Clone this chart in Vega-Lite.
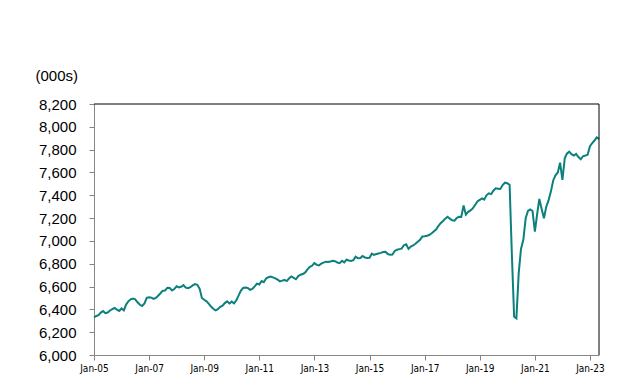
{
  "$schema": "https://vega.github.io/schema/vega-lite/v6.json",
  "autosize": "none",
  "width": 505,
  "height": 251,
  "padding": {"left": 94, "top": 104, "right": 25, "bottom": 27},
  "background": "white",
  "config": {
    "view": {"stroke": null},
    "font": "Liberation Sans",
    "axisX": {
      "title": null,
      "grid": false,
      "domainColor": "#868686",
      "tickColor": "#868686",
      "tickSize": 5,
      "labelFont": "DejaVu Sans Condensed, Liberation Sans, sans-serif",
      "labelFontSize": 10,
      "labelColor": "#000000",
      "labelPadding": 3,
      "labelFlush": false,
      "labelOverlap": false
    },
    "axisY": {
      "grid": false,
      "domainColor": "#868686",
      "tickColor": "#868686",
      "tickSize": 5,
      "labelFont": "Liberation Sans",
      "labelFontSize": 15,
      "labelColor": "#000000",
      "labelPadding": 13,
      "labelOverlap": false,
      "labelFlush": false
    }
  },
  "datasets": {
    "frameTop": [{"v": 8200}],
    "frameRight": [{"date": "2023-05-01"}],
    "emp": [
      {"date":"2005-01-01","v":6330},{"date":"2005-02-01","v":6342},{"date":"2005-03-01","v":6350},{"date":"2005-04-01","v":6372},{"date":"2005-05-01","v":6385},{"date":"2005-06-01","v":6366},{"date":"2005-07-01","v":6372},{"date":"2005-08-01","v":6390},{"date":"2005-09-01","v":6402},{"date":"2005-10-01","v":6412},{"date":"2005-11-01","v":6398},{"date":"2005-12-01","v":6386},
      {"date":"2006-01-01","v":6408},{"date":"2006-02-01","v":6392},{"date":"2006-03-01","v":6440},{"date":"2006-04-01","v":6470},{"date":"2006-05-01","v":6488},{"date":"2006-06-01","v":6495},{"date":"2006-07-01","v":6488},{"date":"2006-08-01","v":6462},{"date":"2006-09-01","v":6440},{"date":"2006-10-01","v":6430},{"date":"2006-11-01","v":6452},{"date":"2006-12-01","v":6500},
      {"date":"2007-01-01","v":6505},{"date":"2007-02-01","v":6503},{"date":"2007-03-01","v":6492},{"date":"2007-04-01","v":6500},{"date":"2007-05-01","v":6520},{"date":"2007-06-01","v":6541},{"date":"2007-07-01","v":6564},{"date":"2007-08-01","v":6566},{"date":"2007-09-01","v":6590},{"date":"2007-10-01","v":6588},{"date":"2007-11-01","v":6566},{"date":"2007-12-01","v":6578},
      {"date":"2008-01-01","v":6602},{"date":"2008-02-01","v":6592},{"date":"2008-03-01","v":6598},{"date":"2008-04-01","v":6612},{"date":"2008-05-01","v":6590},{"date":"2008-06-01","v":6585},{"date":"2008-07-01","v":6594},{"date":"2008-08-01","v":6610},{"date":"2008-09-01","v":6622},{"date":"2008-10-01","v":6615},{"date":"2008-11-01","v":6582},{"date":"2008-12-01","v":6500},
      {"date":"2009-01-01","v":6484},{"date":"2009-02-01","v":6470},{"date":"2009-03-01","v":6450},{"date":"2009-04-01","v":6425},{"date":"2009-05-01","v":6405},{"date":"2009-06-01","v":6392},{"date":"2009-07-01","v":6402},{"date":"2009-08-01","v":6422},{"date":"2009-09-01","v":6432},{"date":"2009-10-01","v":6455},{"date":"2009-11-01","v":6470},{"date":"2009-12-01","v":6452},
      {"date":"2010-01-01","v":6468},{"date":"2010-02-01","v":6452},{"date":"2010-03-01","v":6478},{"date":"2010-04-01","v":6520},{"date":"2010-05-01","v":6562},{"date":"2010-06-01","v":6588},{"date":"2010-07-01","v":6592},{"date":"2010-08-01","v":6588},{"date":"2010-09-01","v":6572},{"date":"2010-10-01","v":6580},{"date":"2010-11-01","v":6602},{"date":"2010-12-01","v":6626},
      {"date":"2011-01-01","v":6618},{"date":"2011-02-01","v":6648},{"date":"2011-03-01","v":6638},{"date":"2011-04-01","v":6670},{"date":"2011-05-01","v":6682},{"date":"2011-06-01","v":6688},{"date":"2011-07-01","v":6680},{"date":"2011-08-01","v":6672},{"date":"2011-09-01","v":6660},{"date":"2011-10-01","v":6645},{"date":"2011-11-01","v":6652},{"date":"2011-12-01","v":6658},
      {"date":"2012-01-01","v":6648},{"date":"2012-02-01","v":6672},{"date":"2012-03-01","v":6688},{"date":"2012-04-01","v":6676},{"date":"2012-05-01","v":6664},{"date":"2012-06-01","v":6692},{"date":"2012-07-01","v":6704},{"date":"2012-08-01","v":6710},{"date":"2012-09-01","v":6724},{"date":"2012-10-01","v":6750},{"date":"2012-11-01","v":6772},{"date":"2012-12-01","v":6782},
      {"date":"2013-01-01","v":6805},{"date":"2013-02-01","v":6790},{"date":"2013-03-01","v":6785},{"date":"2013-04-01","v":6800},{"date":"2013-05-01","v":6810},{"date":"2013-06-01","v":6818},{"date":"2013-07-01","v":6815},{"date":"2013-08-01","v":6820},{"date":"2013-09-01","v":6825},{"date":"2013-10-01","v":6822},{"date":"2013-11-01","v":6810},{"date":"2013-12-01","v":6805},
      {"date":"2014-01-01","v":6825},{"date":"2014-02-01","v":6812},{"date":"2014-03-01","v":6835},{"date":"2014-04-01","v":6828},{"date":"2014-05-01","v":6825},{"date":"2014-06-01","v":6832},{"date":"2014-07-01","v":6862},{"date":"2014-08-01","v":6848},{"date":"2014-09-01","v":6850},{"date":"2014-10-01","v":6868},{"date":"2014-11-01","v":6855},{"date":"2014-12-01","v":6850},
      {"date":"2015-01-01","v":6852},{"date":"2015-02-01","v":6888},{"date":"2015-03-01","v":6878},{"date":"2015-04-01","v":6885},{"date":"2015-05-01","v":6890},{"date":"2015-06-01","v":6895},{"date":"2015-07-01","v":6902},{"date":"2015-08-01","v":6905},{"date":"2015-09-01","v":6885},{"date":"2015-10-01","v":6878},{"date":"2015-11-01","v":6880},{"date":"2015-12-01","v":6912},
      {"date":"2016-01-01","v":6922},{"date":"2016-02-01","v":6928},{"date":"2016-03-01","v":6932},{"date":"2016-04-01","v":6962},{"date":"2016-05-01","v":6970},{"date":"2016-06-01","v":6930},{"date":"2016-07-01","v":6950},{"date":"2016-08-01","v":6960},{"date":"2016-09-01","v":6975},{"date":"2016-10-01","v":6992},{"date":"2016-11-01","v":7010},{"date":"2016-12-01","v":7038},
      {"date":"2017-01-01","v":7040},{"date":"2017-02-01","v":7045},{"date":"2017-03-01","v":7052},{"date":"2017-04-01","v":7065},{"date":"2017-05-01","v":7082},{"date":"2017-06-01","v":7100},{"date":"2017-07-01","v":7130},{"date":"2017-08-01","v":7155},{"date":"2017-09-01","v":7175},{"date":"2017-10-01","v":7195},{"date":"2017-11-01","v":7212},{"date":"2017-12-01","v":7195},
      {"date":"2018-01-01","v":7180},{"date":"2018-02-01","v":7178},{"date":"2018-03-01","v":7200},{"date":"2018-04-01","v":7212},{"date":"2018-05-01","v":7210},{"date":"2018-06-01","v":7310},{"date":"2018-07-01","v":7230},{"date":"2018-08-01","v":7255},{"date":"2018-09-01","v":7268},{"date":"2018-10-01","v":7285},{"date":"2018-11-01","v":7315},{"date":"2018-12-01","v":7345},
      {"date":"2019-01-01","v":7360},{"date":"2019-02-01","v":7373},{"date":"2019-03-01","v":7362},{"date":"2019-04-01","v":7400},{"date":"2019-05-01","v":7417},{"date":"2019-06-01","v":7410},{"date":"2019-07-01","v":7440},{"date":"2019-08-01","v":7461},{"date":"2019-09-01","v":7458},{"date":"2019-10-01","v":7455},{"date":"2019-11-01","v":7490},{"date":"2019-12-01","v":7510},
      {"date":"2020-01-01","v":7505},{"date":"2020-02-01","v":7492},{"date":"2020-03-01","v":6900},{"date":"2020-04-01","v":6336},{"date":"2020-05-01","v":6322},{"date":"2020-06-01","v":6720},{"date":"2020-07-01","v":6930},{"date":"2020-08-01","v":7010},{"date":"2020-09-01","v":7198},{"date":"2020-10-01","v":7262},{"date":"2020-11-01","v":7275},{"date":"2020-12-01","v":7262},
      {"date":"2021-01-01","v":7082},{"date":"2021-02-01","v":7240},{"date":"2021-03-01","v":7368},{"date":"2021-04-01","v":7280},{"date":"2021-05-01","v":7198},{"date":"2021-06-01","v":7300},{"date":"2021-07-01","v":7355},{"date":"2021-08-01","v":7432},{"date":"2021-09-01","v":7530},{"date":"2021-10-01","v":7575},{"date":"2021-11-01","v":7600},{"date":"2021-12-01","v":7686},
      {"date":"2022-01-01","v":7534},{"date":"2022-02-01","v":7724},{"date":"2022-03-01","v":7765},{"date":"2022-04-01","v":7782},{"date":"2022-05-01","v":7760},{"date":"2022-06-01","v":7748},{"date":"2022-07-01","v":7762},{"date":"2022-08-01","v":7735},{"date":"2022-09-01","v":7715},{"date":"2022-10-01","v":7742},{"date":"2022-11-01","v":7748},{"date":"2022-12-01","v":7755},
      {"date":"2023-01-01","v":7830},{"date":"2023-02-01","v":7858},{"date":"2023-03-01","v":7880},{"date":"2023-04-01","v":7908},{"date":"2023-05-01","v":7893}
    ]
  },
  "layer": [
    {
      "data": {"name": "emp"},
      "mark": {"type": "line", "color": "#0b807d", "strokeWidth": 2, "clip": false},
      "encoding": {
        "x": {
          "field": "date",
          "type": "temporal",
          "scale": {
            "type": "utc",
            "domain": [
              {"year": 2005, "month": 1, "date": 1, "utc": true},
              {"year": 2023, "month": 5, "date": 1, "utc": true}
            ]
          },
          "axis": {
            "orient": "bottom",
            "title": null,
            "values": [
              {"year": 2005, "month": 1, "date": 1, "utc": true},
              {"year": 2007, "month": 1, "date": 1, "utc": true},
              {"year": 2009, "month": 1, "date": 1, "utc": true},
              {"year": 2011, "month": 1, "date": 1, "utc": true},
              {"year": 2013, "month": 1, "date": 1, "utc": true},
              {"year": 2015, "month": 1, "date": 1, "utc": true},
              {"year": 2017, "month": 1, "date": 1, "utc": true},
              {"year": 2019, "month": 1, "date": 1, "utc": true},
              {"year": 2021, "month": 1, "date": 1, "utc": true},
              {"year": 2023, "month": 1, "date": 1, "utc": true}
            ],
            "labelExpr": "utcFormat(datum.value, '%b-%y')"
          }
        },
        "y": {
          "field": "v",
          "type": "quantitative",
          "scale": {"domain": [6000, 8200], "nice": false, "zero": false},
          "axis": {
            "orient": "left",
            "title": "(000s)",
            "titleAngle": 0,
            "titleAlign": "left",
            "titleBaseline": "middle",
            "titleX": -59,
            "titleY": -29,
            "titleFont": "Liberation Sans",
            "titleFontSize": 15,
            "titleFontWeight": "normal",
            "titleColor": "#000000",
            "values": [6000, 6200, 6400, 6600, 6800, 7000, 7200, 7400, 7600, 7800, 8000, 8200],
            "format": ",d"
          }
        }
      }
    },
    {
      "data": {"name": "frameTop"},
      "mark": {"type": "rule", "color": "#000000", "strokeWidth": 1},
      "encoding": {
        "y": {
          "field": "v",
          "type": "quantitative",
          "scale": {"domain": [6000, 8200], "nice": false, "zero": false},
          "axis": {
            "orient": "left",
            "title": "(000s)",
            "titleAngle": 0,
            "titleAlign": "left",
            "titleBaseline": "middle",
            "titleX": -59,
            "titleY": -29,
            "titleFont": "Liberation Sans",
            "titleFontSize": 15,
            "titleFontWeight": "normal",
            "titleColor": "#000000",
            "values": [6000, 6200, 6400, 6600, 6800, 7000, 7200, 7400, 7600, 7800, 8000, 8200],
            "format": ",d"
          }
        }
      }
    },
    {
      "data": {"name": "frameRight"},
      "mark": {"type": "rule", "color": "#000000", "strokeWidth": 1},
      "encoding": {
        "x": {
          "field": "date",
          "type": "temporal",
          "scale": {
            "type": "utc",
            "domain": [
              {"year": 2005, "month": 1, "date": 1, "utc": true},
              {"year": 2023, "month": 5, "date": 1, "utc": true}
            ]
          },
          "axis": {
            "orient": "bottom",
            "title": null,
            "values": [
              {"year": 2005, "month": 1, "date": 1, "utc": true},
              {"year": 2007, "month": 1, "date": 1, "utc": true},
              {"year": 2009, "month": 1, "date": 1, "utc": true},
              {"year": 2011, "month": 1, "date": 1, "utc": true},
              {"year": 2013, "month": 1, "date": 1, "utc": true},
              {"year": 2015, "month": 1, "date": 1, "utc": true},
              {"year": 2017, "month": 1, "date": 1, "utc": true},
              {"year": 2019, "month": 1, "date": 1, "utc": true},
              {"year": 2021, "month": 1, "date": 1, "utc": true},
              {"year": 2023, "month": 1, "date": 1, "utc": true}
            ],
            "labelExpr": "utcFormat(datum.value, '%b-%y')"
          }
        }
      }
    }
  ]
}
